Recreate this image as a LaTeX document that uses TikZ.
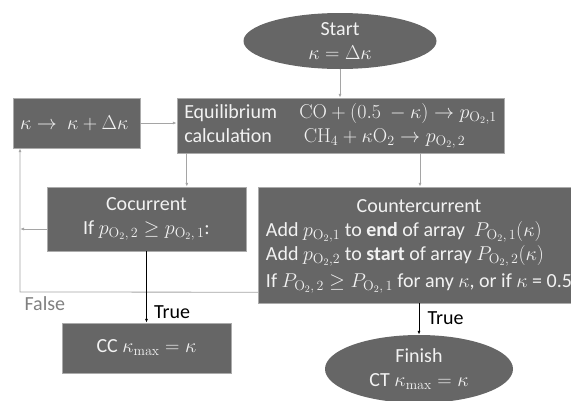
\RequirePackage{fix-cm}
\documentclass[tikz,border=0pt]{standalone}
\usepackage[no-math]{fontspec}
\setmainfont{Carlito}
\usetikzlibrary{shapes.geometric,arrows.meta}

\definecolor{boxgray}{RGB}{102,102,102}
\definecolor{boxtext}{RGB}{242,242,242}
\definecolor{linegray}{RGB}{165,165,165}
\definecolor{falsegray}{RGB}{128,128,128}

\begin{document}
\begin{tikzpicture}[x=1pt, y=-1pt,
  font=\fontsize{20}{24}\selectfont,
  box/.style={rectangle, fill=boxgray, draw=boxgray!55, text=boxtext, inner sep=0pt, align=center},
  oval/.style={ellipse, fill=boxgray, text=boxtext, inner sep=0pt, align=center},
  flow/.style={draw=linegray, line width=0.8pt, -{Latex[length=4pt,width=3pt]}},
  yes/.style={draw=black, line width=0.8pt, -{Latex[length=4pt,width=3pt]}}]
  \useasboundingbox (0,0) rectangle (571,400);

  \node[oval, minimum width=193, minimum height=56] (start) at (340,41) {Start\\ $\kappa = \Delta\kappa$};

  \node[box, minimum width=127, minimum height=50] (incr) at (76.5,123) { $\kappa \rightarrow\ \kappa + \Delta\kappa$ };
  \node[box, minimum width=327, minimum height=55] (equil) at (340.5,125.5) {%
    \begin{tabular}{@{}p{115pt}@{}l@{}}
      Equilibrium & $\mathrm{CO} + (0.5\ - \kappa) \rightarrow p_{\mathrm{O}_2,1}$ \\
      calculation & \ $\mathrm{CH}_4 + \kappa\mathrm{O}_2 \rightarrow p_{\mathrm{O}_2,\,2}$
    \end{tabular}};

  \node[box, minimum width=199, minimum height=64] (cocur) at (146.5,219) {Cocurrent\\ If $p_{\mathrm{O}_2,\,2} \geq p_{\mathrm{O}_2,\,1}$:};
  \node[box, minimum width=322, minimum height=116] (counter) at (419,245) {%
    \begin{tabular}{@{}l@{}}
      \multicolumn{1}{@{}c@{}}{Countercurrent} \\
      Add $p_{\mathrm{O}_2,1}$ to \textbf{end} of array\ \ $P_{\mathrm{O}_2,\,1}(\kappa)$ \\
      Add $p_{\mathrm{O}_2,2}$ to \textbf{start} of array $P_{\mathrm{O}_2,\,2}(\kappa)$ \\[3pt]
      If $P_{\mathrm{O}_2,\,2} \geq P_{\mathrm{O}_2,\,1}$ for any $\kappa$, or if $\kappa$ = 0.5
    \end{tabular}};

  \node[box, minimum width=169, minimum height=50] (ccres) at (146.5,348) {CC $\kappa_{\mathrm{max}} = \kappa$};
  \node[oval, minimum width=188, minimum height=68] (finish) at (419,369) {Finish\\ CT $\kappa_{\mathrm{max}} = \kappa$};

  \coordinate (loop) at (20,292);

  \draw[flow] (start.south) -- (start.south |- equil.north);
  \draw[flow] (incr.east) -- (incr.east -| equil.west);
  \draw[flow] ([xshift=10pt]equil.south west) -- ([xshift=10pt]equil.south west |- cocur.north);
  \draw[flow] ([xshift=79.5pt]equil.south) -- ([xshift=79.5pt]equil.south |- counter.north);

  % false branch back to the increment
  \draw[flow] ([yshift=-10pt]cocur.west) -- ([yshift=-10pt]cocur.west -| loop);
  \draw[flow] ([yshift=11pt]counter.south west) -- (loop) -- (loop |- incr.south);
  \node[anchor=north west, text=falsegray] (false) at ([xshift=1pt,yshift=-1pt]loop) {False};

  \draw[yes] (cocur.south) -- (ccres.north);
  \draw[yes] (counter.south) -- (finish.north);
  \node[anchor=west] (true1) at ([xshift=4pt,yshift=11pt]ccres.north) {True};
  \node[anchor=west] (true2) at ([xshift=5pt,yshift=17pt]finish.north) {True};
\end{tikzpicture}
\end{document}
